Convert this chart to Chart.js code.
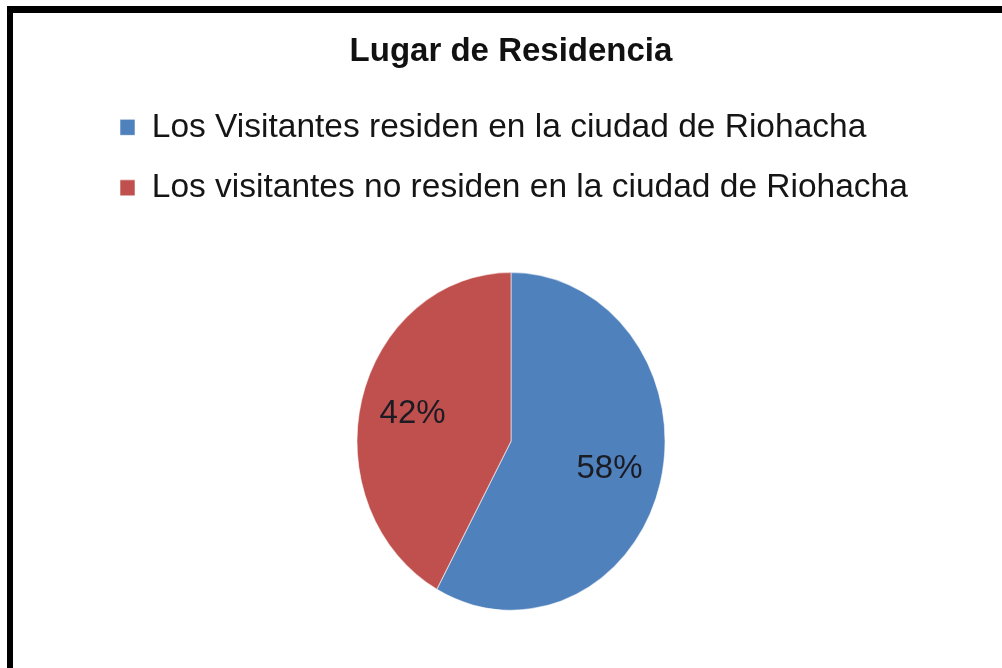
<!DOCTYPE html>
<html>
<head>
<meta charset="utf-8">
<script src="https://cdn.jsdelivr.net/npm/chart.js@4.4.1/dist/chart.umd.min.js"></script>
<style>
  html, body { margin: 0; padding: 0; background: #fff; }
  #frame {
    position: absolute; left: 7px; top: 6px;
    width: 995px; height: 662px;
    box-sizing: border-box;
    border-top: 7px solid #000;
    border-left: 6px solid #000;
    background: #fff;
  }
  #wrap { position: relative; width: 100%; height: 100%; }
</style>
</head>
<body>
<div id="frame"><div id="wrap"><canvas id="myChart"></canvas></div></div>
<script>
// datos del gráfico
const titulo = "Lugar de Residencia";
const categorias = [
  "Los Visitantes residen en la ciudad de Riohacha",
  "Los visitantes no residen en la ciudad de Riohacha"
];
const porcentajes = [58, 42];
const colores = ["#4F81BD", "#C0504D"];

const FONT = "'Liberation Sans', Arial, sans-serif";
const STRETCH_Y = 1.097; // el pie del original es un poco ovalado

// estira el pie verticalmente alrededor de su centro y pone los porcentajes
const piePlugin = {
  id: "pieStretch",
  beforeDatasetsDraw(chart) {
    const arc = chart.getDatasetMeta(0).data[0];
    const ctx = chart.ctx;
    ctx.save();
    ctx.translate(arc.x, arc.y);
    ctx.scale(1, STRETCH_Y);
    ctx.translate(-arc.x, -arc.y);
  },
  afterDatasetsDraw(chart) {
    const ctx = chart.ctx;
    ctx.restore();
    ctx.save();
    ctx.font = "33px " + FONT;
    ctx.fillStyle = "#1b1b24";
    ctx.textAlign = "center";
    ctx.textBaseline = "middle";
    chart.getDatasetMeta(0).data.forEach((arc, i) => {
      const mid = (arc.startAngle + arc.endAngle) / 2;
      const r = arc.outerRadius * 0.66;
      const x = arc.x + Math.cos(mid) * r;
      const y = arc.y + Math.sin(mid) * r * STRETCH_Y;
      ctx.fillText(porcentajes[i] + "%", x, y);
    });
    ctx.restore();
  }
};

const ctx = document.getElementById("myChart").getContext("2d");
const chart = new Chart(ctx, {
  type: "pie",
  data: {
    labels: categorias,
    datasets: [{
      data: porcentajes,
      backgroundColor: colores,
      borderColor: "rgba(255,255,255,0.55)",
      borderWidth: 1,
      radius: 154
    }]
  },
  options: {
    responsive: true,
    maintainAspectRatio: false,
    animation: false,
    layout: { padding: { top: 19, left: 80, right: 73, bottom: 0 } },
    plugins: {
      title: {
        display: true,
        text: titulo,
        color: "#111",
        font: { family: FONT, size: 33, weight: "bold" },
        padding: { top: 0, bottom: 12 }
      },
      legend: {
        position: "top",
        align: "start",
        labels: {
          boxWidth: 15,
          boxHeight: 16,
          padding: 27,
          color: "#151515",
          font: { family: FONT, size: 33.5 }
        }
      },
      tooltip: { enabled: false }
    }
  },
  plugins: [piePlugin]
});
</script>
</body>
</html>
